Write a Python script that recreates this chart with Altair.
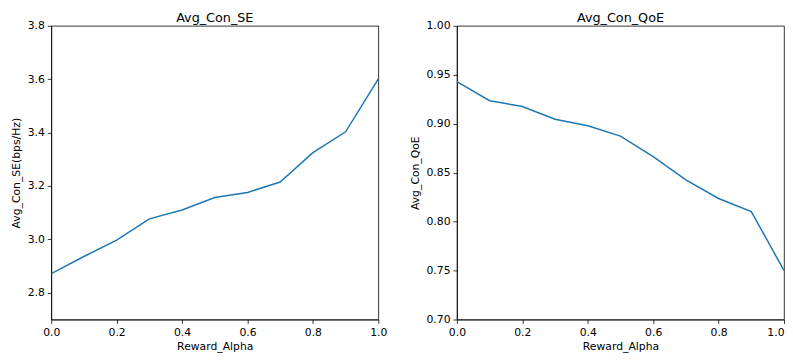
import altair as alt
import pandas as pd

alpha = [0.0, 0.1, 0.2, 0.3, 0.4, 0.5, 0.6, 0.7, 0.8, 0.9, 1.0]
se_values = [2.872, 2.936, 2.997, 3.077, 3.110, 3.157, 3.176, 3.215, 3.325, 3.403, 3.601]
qoe_values = [0.943, 0.9235, 0.9175, 0.9045, 0.898, 0.8874, 0.8664, 0.8427, 0.8236, 0.8103, 0.750]

x_ticks = [0.0, 0.2, 0.4, 0.6, 0.8, 1.0]
se_ticks = [2.8, 3.0, 3.2, 3.4, 3.6, 3.8]
qoe_ticks = [0.70, 0.75, 0.80, 0.85, 0.90, 0.95, 1.00]

df_se = pd.DataFrame({"Reward_Alpha": alpha, "v": se_values})
df_qoe = pd.DataFrame({"Reward_Alpha": alpha, "v": qoe_values})

FONT = "DejaVu Sans"
BLUE = "#1f77b4"
H = 299

left = alt.Chart(df_se, title=alt.Title("Avg_Con_SE")).mark_line(
    color=BLUE, strokeWidth=1.5, clip=True
).encode(
    x=alt.X("Reward_Alpha:Q", title="Reward_Alpha",
            scale=alt.Scale(domain=[0, 1], nice=False),
            axis=alt.Axis(values=x_ticks, format=".1f")),
    y=alt.Y("v:Q", title="Avg_Con_SE(bps/Hz)",
            scale=alt.Scale(domain=[2.7, 3.8], nice=False, zero=False),
            axis=alt.Axis(values=se_ticks, format=".1f")),
).properties(width=333, height=H)

right = alt.Chart(df_qoe, title=alt.Title("Avg_Con_QoE")).mark_line(
    color=BLUE, strokeWidth=1.5, clip=True
).encode(
    x=alt.X("Reward_Alpha:Q", title="Reward_Alpha",
            scale=alt.Scale(domain=[0, 1], nice=False),
            axis=alt.Axis(values=x_ticks, format=".1f",
                          labelAlign=alt.expr("datum.value >= 1 ? 'right' : 'center'"))),
    y=alt.Y("v:Q", title="Avg_Con_QoE",
            scale=alt.Scale(domain=[0.70, 1.00], nice=False, zero=False),
            axis=alt.Axis(values=qoe_ticks, format=".2f")),
).properties(width=333, height=H)

chart = alt.hconcat(left, right, spacing=21).properties(
    padding={"left": 2, "top": 0, "right": 0, "bottom": 0}
).configure_view(
    stroke="black", strokeWidth=0.8
).configure_axis(
    grid=False,
    labelFlush=False,
    domainColor="black",
    domainWidth=0.8,
    tickColor="black",
    tickSize=4,
    tickWidth=0.8,
    labelColor="black",
    labelFont=FONT,
    labelFontSize=11,
    labelPadding=3,
    titleFont=FONT,
    titleFontSize=11,
    titleFontWeight="normal",
    titleColor="black",
).configure_axisY(
    titlePadding=6,
).configure_axisX(
    labelPadding=3,
    titlePadding=4,
).configure_title(
    font=FONT,
    fontSize=13,
    fontWeight="normal",
    color="black",
    offset=-5,
)

chart.save("out.html", embed_options={"renderer": "svg", "actions": False})
